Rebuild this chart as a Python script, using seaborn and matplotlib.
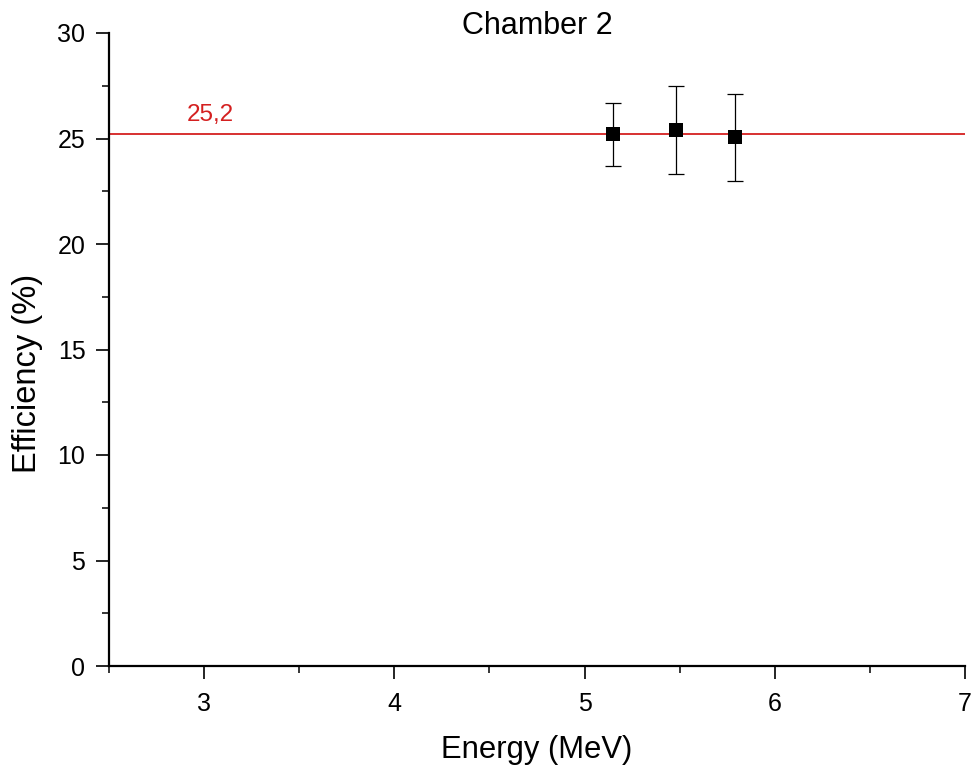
import matplotlib
matplotlib.use("Agg")
import matplotlib.pyplot as plt
from matplotlib.ticker import MultipleLocator
import seaborn as sns
import pandas as pd

# Measured detection efficiency for chamber 2
energy_mev = [5.15, 5.48, 5.79]
efficiency_pct = [25.2, 25.4, 25.05]
efficiency_err = [1.5, 2.1, 2.08]
mean_efficiency = 25.2
mean_label = "25,2"

df = pd.DataFrame({"energy": energy_mev, "eff": efficiency_pct, "err": efficiency_err})

sns.set_theme(style="white")
plt.rcParams["font.family"] = ["Liberation Sans", "DejaVu Sans"]

fig = plt.figure(figsize=(9.72, 7.71), dpi=100)
ax = fig.add_axes([109 / 972, 105 / 771, 856 / 972, 633 / 771])

red = "#d42020"
ax.axhline(mean_efficiency, color=red, lw=1.3, zorder=1)
ax.text(3.03, mean_efficiency + 0.9, mean_label, color=red, fontsize=17.5,
        ha="center", va="center")

ax.errorbar(df["energy"], df["eff"], yerr=df["err"], fmt="none",
            ecolor="black", elinewidth=0.9, capsize=6, capthick=0.9, zorder=2)
sns.scatterplot(data=df, x="energy", y="eff", marker="s", s=110, color="black",
                edgecolor="black", linewidth=0, ax=ax, zorder=3)

ax.set_xlim(2.5, 7)
ax.set_ylim(0, 30)
ax.xaxis.set_major_locator(MultipleLocator(1))
ax.xaxis.set_minor_locator(MultipleLocator(0.5))
ax.yaxis.set_major_locator(MultipleLocator(5))
ax.yaxis.set_minor_locator(MultipleLocator(2.5))

for side in ("top", "right"):
    ax.spines[side].set_visible(False)
for side in ("left", "bottom"):
    ax.spines[side].set_linewidth(1.6)
    ax.spines[side].set_color("black")

ax.tick_params(which="major", direction="out", length=9.5, width=1.2,
               labelsize=18, pad=7.5, color="black", labelcolor="black",
               left=True, bottom=True)
ax.tick_params(which="minor", direction="out", length=5, width=1.1,
               color="black", left=True, bottom=True)
ax.tick_params(axis="x", which="major", pad=9)

ax.set_xlabel("Energy (MeV)", fontsize=22.3, labelpad=14, color="black")
ax.set_ylabel("Efficiency (%)", fontsize=23.5, color="black")
ax.yaxis.set_label_coords((43 - 109) / 856, (666 - 373) / 633)
ax.set_title("Chamber 2", fontsize=22, y=1.0, pad=-1, color="black")

fig.savefig("out.png", dpi=100, facecolor="white")
